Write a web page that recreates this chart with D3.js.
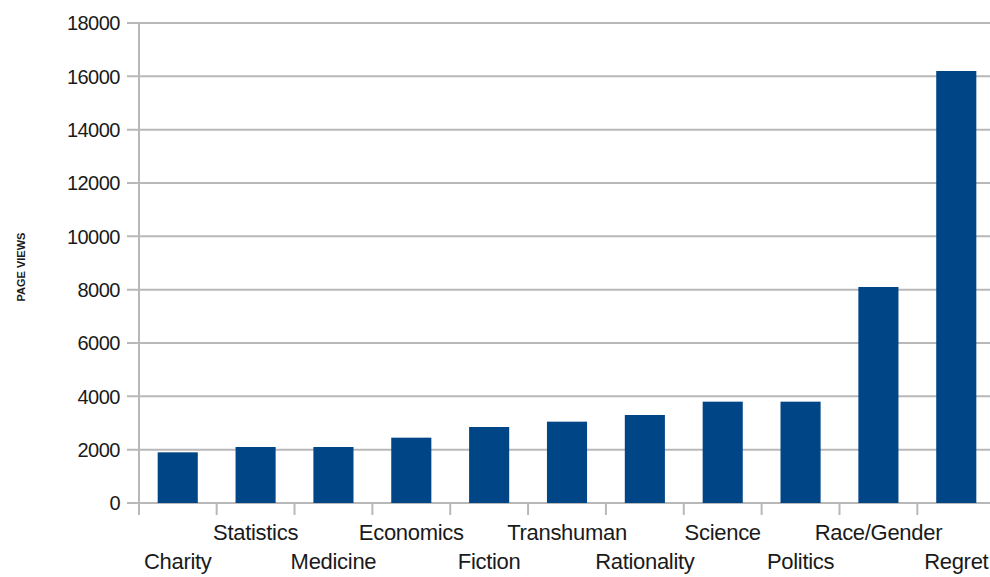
<!DOCTYPE html>
<html>
<head>
<meta charset="utf-8">
<script src="https://cdn.jsdelivr.net/npm/d3@7"></script>
<style>
  body { margin: 0; background: #fff; }
  svg text { font-family: "Liberation Sans", Arial, sans-serif; fill: #1a1a1a; }
</style>
</head>
<body>
<svg id="chart" width="990" height="577"></svg>
<script>
// topics and their page views
const topics = ["Charity", "Statistics", "Medicine", "Economics", "Fiction", "Transhuman",
  "Rationality", "Science", "Politics", "Race/Gender", "Regret"];
const pageViews = [1900, 2100, 2100, 2450, 2850, 3050, 3300, 3800, 3800, 8100, 16200];
const yTicks = [0, 2000, 4000, 6000, 8000, 10000, 12000, 14000, 16000, 18000];

const svg = d3.select("#chart");

// plot area - right side runs past the window edge like the original crop
const margin = { left: 139, right: 995, top: 23, bottom: 503 };

const x = d3.scaleBand()
  .domain(topics)
  .range([margin.left, margin.right])
  .paddingInner(0.485)
  .paddingOuter(0.24);

const y = d3.scaleLinear()
  .domain([0, 18000])
  .range([margin.bottom, margin.top]);

// horizontal grid
svg.append("g")
  .selectAll("line")
  .data(yTicks)
  .join("line")
  .attr("x1", margin.left - 12)
  .attr("x2", 990)
  .attr("y1", d => y(d))
  .attr("y2", d => y(d))
  .attr("stroke", "#b8b8b8")
  .attr("stroke-width", 2);

// y tick labels
svg.append("g")
  .selectAll("text")
  .data(yTicks)
  .join("text")
  .attr("x", margin.left - 19)
  .attr("y", d => y(d))
  .attr("dy", "0.36em")
  .attr("text-anchor", "end")
  .attr("font-size", 20)
  .attr("letter-spacing", -0.5)
  .text(d => d);

// bars
svg.append("g")
  .selectAll("rect")
  .data(topics)
  .join("rect")
  .attr("x", d => x(d))
  .attr("width", x.bandwidth())
  .attr("y", (d, i) => y(pageViews[i]))
  .attr("height", (d, i) => y(0) - y(pageViews[i]))
  .attr("fill", "#004586");

// vertical axis line and category separators
svg.append("line")
  .attr("x1", margin.left).attr("x2", margin.left)
  .attr("y1", margin.top).attr("y2", margin.bottom + 12)
  .attr("stroke", "#b8b8b8")
  .attr("stroke-width", 2);

const step = x.step();
svg.append("g")
  .selectAll("line")
  .data(topics.slice(1))
  .join("line")
  .attr("x1", d => x(d) - step * x.paddingInner() / 2)
  .attr("x2", d => x(d) - step * x.paddingInner() / 2)
  .attr("y1", margin.bottom)
  .attr("y2", margin.bottom + 12)
  .attr("stroke", "#b8b8b8")
  .attr("stroke-width", 2);

// category labels, staggered in two rows
svg.append("g")
  .selectAll("text")
  .data(topics)
  .join("text")
  .attr("x", d => x(d) + x.bandwidth() / 2)
  .attr("y", (d, i) => i % 2 ? 540 : 569)
  .attr("text-anchor", "middle")
  .attr("font-size", 22)
  .attr("letter-spacing", -0.3)
  .text(d => d);

// axis title
svg.append("text")
  .attr("transform", "translate(25,267) rotate(-90)")
  .attr("text-anchor", "middle")
  .attr("font-size", 11)
  .attr("font-weight", "bold")
  .text("PAGE VIEWS");
</script>
</body>
</html>
